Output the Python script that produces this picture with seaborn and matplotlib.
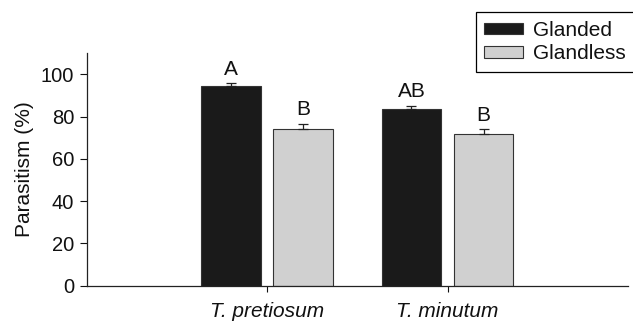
import numpy as np
import pandas as pd
import seaborn as sns
import matplotlib.pyplot as plt

# values
species = ['T. pretiosum', 'T. minutum']
leaf_types = ['Glanded', 'Glandless']
glanded = [94.3, 83.6]
glandless = [74.0, 71.8]
glanded_se = [1.6, 1.6]
glandless_se = [2.7, 2.4]
letters_glanded = ['A', 'AB']
letters_glandless = ['B', 'B']

df = pd.DataFrame({
    'species': species * 2,
    'type': ['Glanded'] * 2 + ['Glandless'] * 2,
    'parasitism': glanded + glandless,
})

sns.set_style('ticks')
plt.rcParams['font.family'] = ['Liberation Sans', 'DejaVu Sans']
plt.rcParams['text.color'] = '#111111'
plt.rcParams['axes.labelcolor'] = '#111111'
plt.rcParams['xtick.color'] = '#111111'
plt.rcParams['ytick.color'] = '#111111'

fig = plt.figure(figsize=(6.33, 3.22), dpi=100)
ax = fig.add_axes([0.137, 0.113, 0.855, 0.722])

sns.barplot(data=df, x='species', y='parasitism', hue='type', order=species,
            hue_order=leaf_types, palette=['#1a1a1a', '#d0d0d0'],
            gap=0.175, width=0.8, edgecolor='#333333', linewidth=0.8,
            errorbar=None, ax=ax)

# one-sided error bars + letters, placed from the drawn bars
ses = [glanded_se, glandless_se]
letters = [letters_glanded, letters_glandless]
for cont, se, lab in zip(ax.containers, ses, letters):
    xs = [b.get_x() + b.get_width() / 2 for b in cont]
    hs = [b.get_height() for b in cont]
    ax.errorbar(xs, hs, yerr=[np.zeros(len(se)), se], fmt='none',
                ecolor='#222222', elinewidth=0.9, capsize=3.3, capthick=0.9)
    for x, h, s, t in zip(xs, hs, se, lab):
        ax.text(x, h + s + 2.0, t, ha='center', va='bottom', fontsize=15)

ax.set_xlim(-1, 2)
ax.set_ylim(0, 110)
ax.set_yticks([0, 20, 40, 60, 80, 100])
ax.set_xlabel('')
ax.set_ylabel('Parasitism (%)', fontsize=15, labelpad=5)
ax.tick_params(axis='y', labelsize=14.5, length=5, width=0.8, pad=4)
ax.tick_params(axis='x', labelsize=15, length=4, width=0.8, pad=8)
for t in ax.get_xticklabels():
    t.set_fontstyle('italic')
sns.despine(ax=ax)
for sp in ['left', 'bottom']:
    ax.spines[sp].set_linewidth(0.9)
    ax.spines[sp].set_color('#222222')

leg = ax.legend(loc='upper right', bbox_to_anchor=(1.012, 1.175), fontsize=15,
                frameon=True, fancybox=False, framealpha=1, edgecolor='black',
                handlelength=1.85, handleheight=0.45, borderpad=0.4,
                labelspacing=0.22, handletextpad=0.5, borderaxespad=0)
leg.get_frame().set_linewidth(0.9)

fig.savefig('out.png', dpi=100)
